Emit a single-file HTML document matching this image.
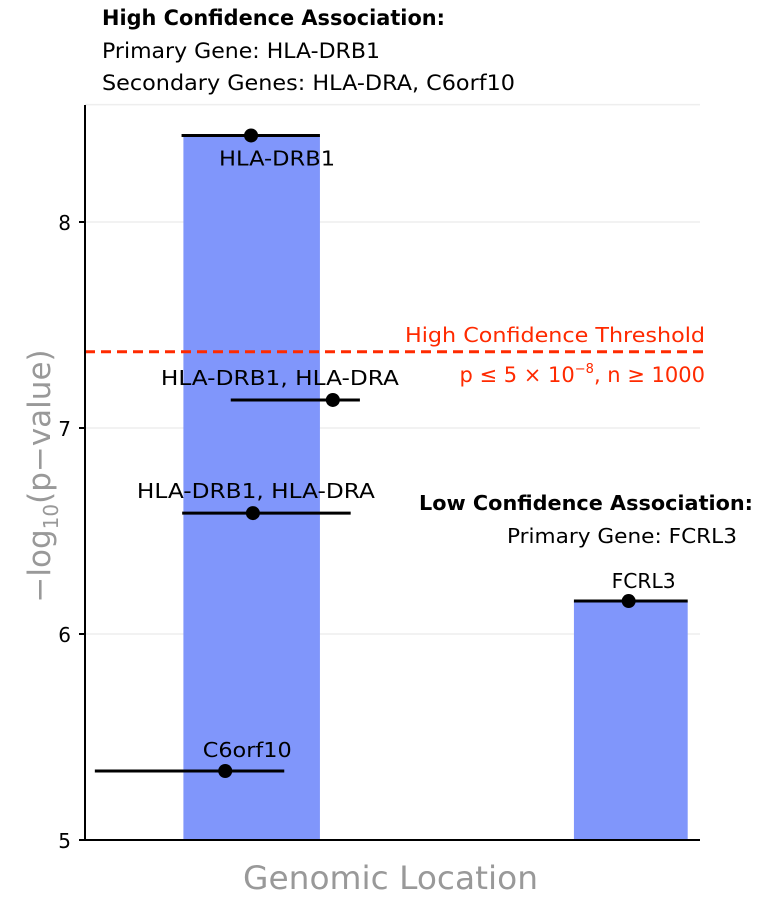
<!DOCTYPE html>
<html><head><meta charset="utf-8"><style>
body{margin:0;background:#fff;font-family:"DejaVu Sans","Liberation Sans",sans-serif;}
svg text{font-family:"DejaVu Sans","Liberation Sans",sans-serif;}
</style></head><body>
<svg id="chart" width="761" height="900" xmlns="http://www.w3.org/2000/svg">
<g id="grid"></g>
<g id="bars"></g>
<g id="thr"></g>
<g id="pts"></g>
<g id="axes"></g>
<text x="102" y="25" font-size="21" font-weight="bold" textLength="343" lengthAdjust="spacingAndGlyphs">High Confidence Association:</text>
<text x="102" y="58" font-size="21" textLength="278" lengthAdjust="spacingAndGlyphs">Primary Gene: HLA-DRB1</text>
<text x="102" y="90" font-size="21" textLength="413" lengthAdjust="spacingAndGlyphs">Secondary Genes: HLA-DRA, C6orf10</text>
<text x="419" y="510" font-size="20" font-weight="bold" textLength="334" lengthAdjust="spacingAndGlyphs">Low Confidence Association:</text>
<text x="507" y="543" font-size="20" textLength="230" lengthAdjust="spacingAndGlyphs">Primary Gene: FCRL3</text>
<text x="243" y="889" font-size="32" fill="#999" textLength="295" lengthAdjust="spacingAndGlyphs">Genomic Location</text>
<text transform="translate(50,476) rotate(-90)" font-size="31" fill="#999" text-anchor="middle">−log<tspan font-size="20" dy="8">10</tspan><tspan dy="-8">(p−value)</tspan></text>
</svg>
<script>
const yTicks=[5,6,7,8];
const barLabels=["HLA region","FCRL3 region"];
const barStart=[16,79.5];
const barEnd=[38.2,98];
const barTop=[8.42,6.16];
const pointLabels=["HLA-DRB1","HLA-DRB1, HLA-DRA","HLA-DRB1, HLA-DRA","C6orf10","FCRL3"];
const pointX=[27,40.3,27.3,22.8,88.4];
const pointY=[8.42,7.136,6.587,5.335,6.16];
const ciLo=[15.7,23.7,15.8,1.6,79.5];
const ciHi=[38.2,44.7,43.2,32.4,98];
const threshold=7.37;
const NS="http://www.w3.org/2000/svg";
const X0=85,X1=700,Y0=840,PX=206;
const xs=v=>X0+(X1-X0)*v/100;
const ys=v=>Y0-(v-5)*PX;
function mk(t,a,p){const e=document.createElementNS(NS,t);for(const k in a)e.setAttribute(k,a[k]);p.appendChild(e);return e;}
const G=document.getElementById('grid'),B=document.getElementById('bars'),T=document.getElementById('thr'),P=document.getElementById('pts'),A=document.getElementById('axes');
yTicks.concat([8.57]).forEach(v=>{if(v===5)return;const l=mk('line',{x1:X0,x2:X1,y1:ys(v),y2:ys(v),stroke:'#eee','stroke-width':1.5},G);

});
barTop.forEach((v,i)=>{const r=mk('rect',{x:xs(barStart[i]),y:ys(v),width:xs(barEnd[i])-xs(barStart[i]),height:Y0-ys(v),fill:'#8096fb'},B);

});
const tl=mk('line',{x1:X0,x2:X1+5,y1:ys(threshold),y2:ys(threshold),stroke:'#ff2a00','stroke-width':3,'stroke-dasharray':'10,6'},T);


const t1=mk('text',{x:405,y:ys(threshold)-10,'font-size':20,fill:'#ff2a00',textLength:300,lengthAdjust:'spacingAndGlyphs'},T);t1.textContent='High Confidence Threshold';


const t2=mk('text',{x:705,y:ys(threshold)+30,'font-size':21,fill:'#ff2a00','text-anchor':'end'},T);t2.innerHTML='p ≤ 5 × 10<tspan font-size="13" dy="-9">−8</tspan><tspan dy="9">, n ≥ 1000</tspan>';


const lblOff=[[26,30],[-53,-15],[3,-15],[22,-14],[15,-13]];
const lblW=[116,238,238,89,64];
pointY.forEach((v,i)=>{const g=mk('g',{},P);


mk('line',{x1:xs(ciLo[i]),x2:xs(ciHi[i]),y1:ys(v),y2:ys(v),stroke:'#000','stroke-width':3},g);
mk('circle',{cx:xs(pointX[i]),cy:ys(v),r:7,fill:'#000'},g);
const cx=xs(pointX[i])+lblOff[i][0];
const t=mk('text',{x:cx-lblW[i]/2,y:ys(v)+lblOff[i][1],'font-size':20,textLength:lblW[i],lengthAdjust:'spacingAndGlyphs'},g);t.textContent=pointLabels[i];});
mk('line',{x1:X0,x2:X0,y1:105,y2:Y0,stroke:'#000','stroke-width':2},A);
mk('line',{x1:X0,x2:X1,y1:Y0,y2:Y0,stroke:'#000','stroke-width':2},A);
yTicks.forEach(v=>{mk('line',{x1:X0-6,x2:X0,y1:ys(v),y2:ys(v),stroke:'#000','stroke-width':2},A);
const t=mk('text',{x:X0-14,y:ys(v)+8,'font-size':20,'text-anchor':'end'},A);t.textContent=v;

});
</script>
</body></html>
